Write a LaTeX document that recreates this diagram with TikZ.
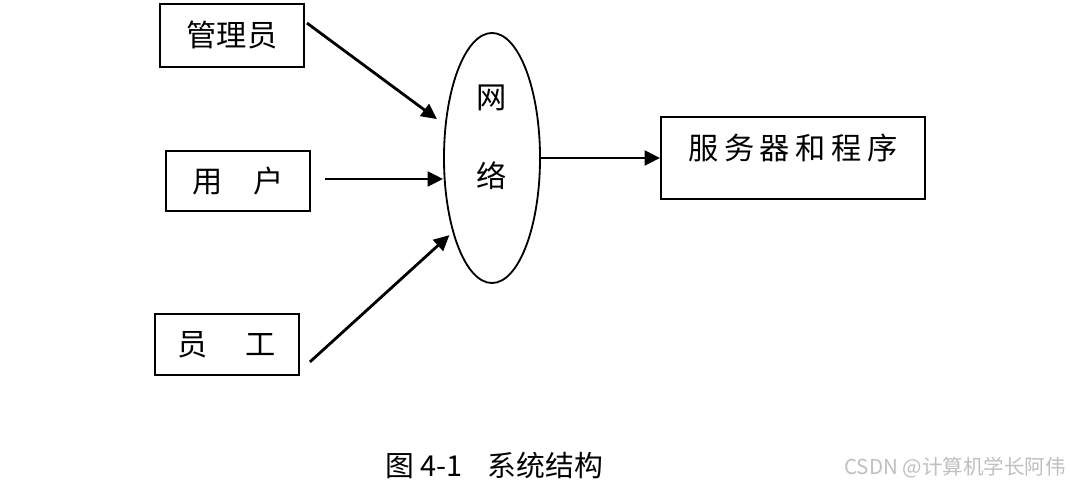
\documentclass[tikz,border=0pt]{standalone}
\usepackage{fontspec}
\usepackage{tikz}
\usetikzlibrary{arrows.meta,shapes.geometric}
\newfontfamily\cjk{Noto Sans CJK SC}
\newcommand{\wgap}{\hspace{4pt}}

\begin{document}
\begin{tikzpicture}[x=0.025cm, y=-0.025cm,
  box/.style={draw, line width=1.3pt, inner sep=0pt, font=\fontsize{21.5}{24}\selectfont\cjk},
  cloud/.style={draw, ellipse, line width=1.3pt, inner sep=0pt, minimum width=2.4cm, minimum height=6.25cm},
  flow/.style={-{Triangle[length=11pt,width=10.5pt]}, line width=2pt}]
\useasboundingbox (0,0) rectangle (1070,490);
% three users on the left
\node[box, minimum width=3.6cm, minimum height=1.575cm] (admin) at (232,35.5) {管理员};
\node[box, minimum width=3.6cm, minimum height=1.5cm] (user) at (238,181) {用　户};
\node[box, minimum width=3.6cm, minimum height=1.525cm] (staff) at (227,344.5) {员\hspace{27pt}工};
% network in the middle
\node[cloud] (net) at (492,158) {};
\node[font=\fontsize{21.5}{24}\selectfont\cjk, align=center] (netlabel) at (492,137) {网\\[32pt]络};
% server on the right
\node[box, minimum width=6.6cm, minimum height=2.05cm, text depth=16pt] (server) at (793,158)
  {服\wgap 务\wgap 器\wgap 和\wgap 程\wgap 序};
% connectors
\draw[flow, shorten >=7pt] ([shift={(2,20)}]admin.north east) -- (net.145);
\draw[flow] ([shift={(14,-2)}]user.east) -- ([shift={(0,-2)}]user.east -| net.west);
\draw[flow, shorten >=3pt] ([shift={(10,-14)}]staff.south east) -- (net.242);
\draw[flow] (net.east) -- (server.west);
% caption
\node[font=\fontsize{20.5}{24}\selectfont\cjk] (caption) at (494,466) {图 4-1\hspace{18pt}系统结构};
\node[font=\fontsize{14.6}{17}\selectfont\cjk, text=black!25, anchor=east, inner sep=0pt] (mark) at (1066,468) {CSDN @计算机学长阿伟};
\end{tikzpicture}
\end{document}
